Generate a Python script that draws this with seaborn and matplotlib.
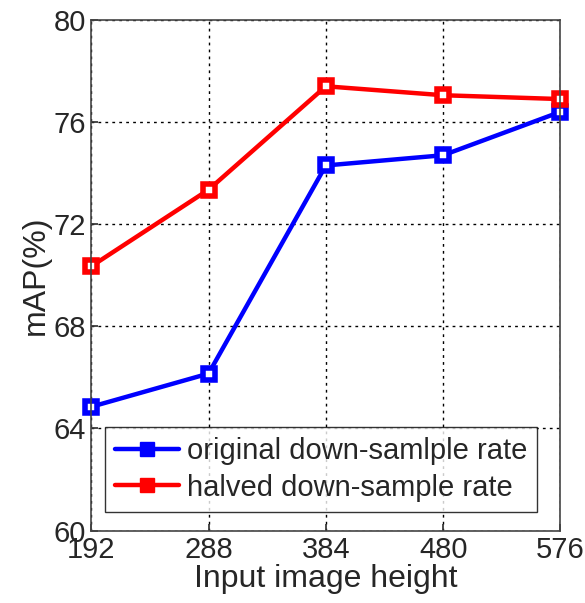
import numpy as np
import pandas as pd
import matplotlib
matplotlib.use("Agg")
import matplotlib.pyplot as plt
from matplotlib.lines import Line2D
import seaborn as sns

heights = [192, 288, 384, 480, 576]
original_rate = [64.85, 66.15, 74.3, 74.7, 76.4]
halved_rate = [70.35, 73.35, 77.4, 77.05, 76.9]
series_names = ["original down-samlple rate", "halved down-sample rate"]
colors = ["#0000ff", "#ff0000"]

df = pd.DataFrame({
    "height": heights * 2,
    "map": original_rate + halved_rate,
    "series": [series_names[0]] * len(heights) + [series_names[1]] * len(heights),
})

sns.set_theme(style="ticks")
plt.rcParams["font.family"] = ["Liberation Sans", "DejaVu Sans"]

fig, ax = plt.subplots(figsize=(5.85, 6.03), dpi=100)
sns.lineplot(data=df, x="height", y="map", hue="series", palette=colors,
             marker="s", markersize=9, linewidth=3.2, markeredgewidth=4,
             markerfacecolor="white", ax=ax, legend=False, clip_on=False)
for line, c in zip(ax.lines, colors):
    line.set_markeredgecolor(c)

ax.set_xlim(192, 576)
ax.set_ylim(60, 80)
ax.set_xticks(heights)
ax.set_yticks([60, 64, 68, 72, 76, 80])
ax.grid(True, color="black", linestyle=(0, (2, 3)), linewidth=1.0)
ax.tick_params(direction="in", labelsize=21, length=5, color="#333333", pad=4)
for s in ax.spines.values():
    s.set_color("#444444")
    s.set_linewidth(1.2)
ax.set_xlabel("Input image height", fontsize=23, labelpad=0)
ax.set_ylabel("mAP(%)", fontsize=23, labelpad=2)

handles = [Line2D([], [], color=c, linewidth=3.2, marker="s", markersize=10)
           for c in colors]
leg = ax.legend(handles, series_names, loc="lower center", fontsize=21,
                bbox_to_anchor=(0.49, 0.037), borderaxespad=0,
                frameon=True, fancybox=False,
                handlelength=2.2, handletextpad=0.25, borderpad=0.35,
                labelspacing=0.3)
leg.get_frame().set_edgecolor("black")
leg.get_frame().set_linewidth(1.0)

fig.subplots_adjust(left=0.156, right=0.958, top=0.967, bottom=0.12)
fig.savefig("out.png", dpi=100)
